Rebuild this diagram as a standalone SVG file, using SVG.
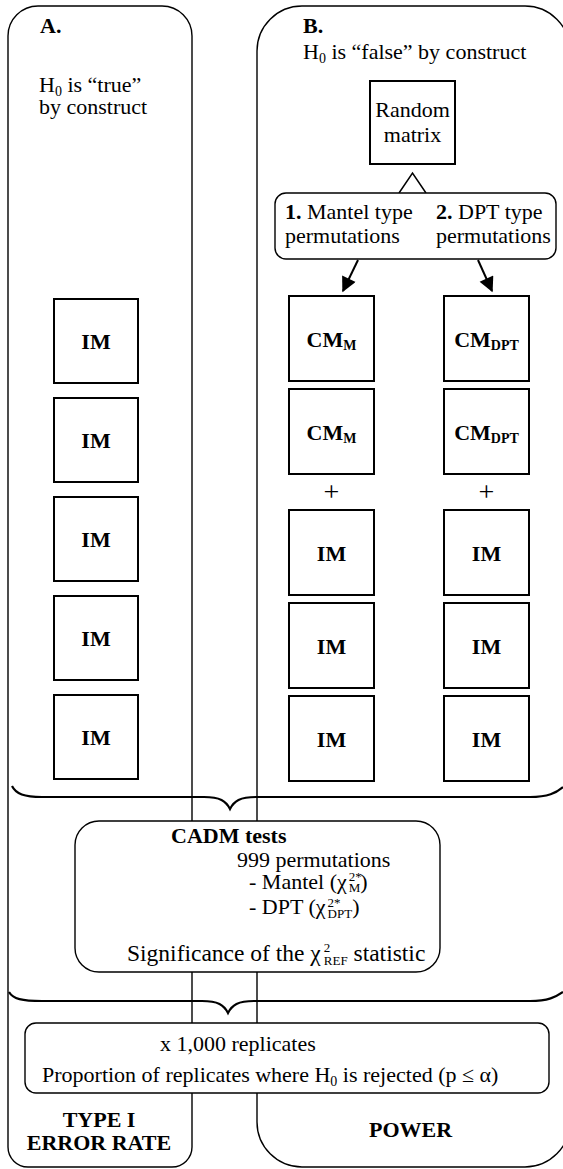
<svg xmlns="http://www.w3.org/2000/svg" width="563" height="1169" viewBox="0 0 563 1169">
<defs>
<marker id="ah" viewBox="0 0 10 10" refX="9" refY="5" markerUnits="userSpaceOnUse" markerWidth="18" markerHeight="15" orient="auto">
<path d="M0,0 L10,5 L0,10 Z" fill="#000"/>
</marker>
</defs>
<style>
text{font-family:"Liberation Serif","Tinos","Times New Roman","DejaVu Serif",serif;font-size:22px;fill:#000}
.b{font-weight:bold}
.m{text-anchor:middle}
.sub{font-size:14px}
.sm{font-size:13px}
.plus{font-size:28px}
.big{font-size:23.5px}
.box{fill:#fff;stroke:#000;stroke-width:2}
.panel{fill:none;stroke:#000;stroke-width:1.4}
.rbox{fill:#fff;stroke:#000;stroke-width:1.4}
.brace{fill:none;stroke:#000;stroke-width:2.2}
.arrow{stroke:#000;stroke-width:2;fill:none;marker-end:url(#ah)}
.tri{fill:none;stroke:#000;stroke-width:1.5}
</style>
<rect width="563" height="1169" fill="#fff"/>

<g id="panelA">
<path class="panel" d="M8,36 A30,30 0 0 1 38,6 H162 A30,30 0 0 1 192,36 V1147 A20,20 0 0 1 172,1167 H28 A20,20 0 0 1 8,1147 Z"/>
<text class="b" x="40" y="33">A.</text>
<text x="39" y="92">H<tspan class="sub" dy="4">0</tspan><tspan dy="-4"> is “true”</tspan></text>
<text x="39" y="114">by construct</text>
<text class="b m" x="99" y="1127">TYPE I</text>
<text class="b m" x="99" y="1150">ERROR RATE</text>
</g>

<g id="panelB">
<path class="panel" d="M257,51 A45,45 0 0 1 302,6 H525 A45,45 0 0 1 570,51 V1122 A45,45 0 0 1 525,1167 H302 A45,45 0 0 1 257,1122 Z"/>
<text class="b" x="303" y="33">B.</text>
<text x="303" y="59">H<tspan class="sub" dy="4">0</tspan><tspan dy="-4"> is “false” by construct</tspan></text>
<text class="b m" x="410.5" y="1137">POWER</text>
</g>

<g id="braces">
<path class="brace" d="M12,786 C16,794 24,797 42,797 L204,797 C220,797 226,801 230,809 C234,801 240,797 256,797 L530,797 C548,797 556,793 563,787"/>
<path class="brace" d="M9,992 C13,999 22,1001 42,1001 L202,1001 C218,1001 224,1005 228,1013 C232,1005 238,1001 254,1001 L530,1001 C548,1001 556,997 563,992"/>
</g>

<g id="connectors">
<path class="tri" d="M399,193 L412.5,173 L426,193"/>
<line class="arrow" x1="358" y1="260" x2="343" y2="291"/>
<line class="arrow" x1="478" y1="260" x2="492" y2="291"/>
<line class="arrow" x1="224" y1="852" x2="224" y2="938"/>
</g>

<g id="random-matrix">
<rect class="box" x="370" y="81" width="85" height="83"/>
<text class="m" x="412.5" y="117">Random</text>
<text class="m" x="412.5" y="142">matrix</text>
</g>

<g id="permutations">
<rect class="rbox" x="275" y="193" width="281" height="66" rx="11"/>
<text x="285" y="219"><tspan class="b">1.</tspan> Mantel type</text>
<text x="436" y="219"><tspan class="b">2.</tspan> DPT type</text>
<text x="285" y="243">permutations</text>
<text x="436" y="243">permutations</text>
</g>

<g id="left-IM">
<rect class="box" x="54" y="299" width="84" height="84"/>
<text class="b m" x="96" y="349">IM</text>
<rect class="box" x="54" y="398" width="84" height="84"/>
<text class="b m" x="96" y="448">IM</text>
<rect class="box" x="54" y="497" width="84" height="84"/>
<text class="b m" x="96" y="547">IM</text>
<rect class="box" x="54" y="596" width="84" height="84"/>
<text class="b m" x="96" y="646">IM</text>
<rect class="box" x="54" y="695" width="84" height="84"/>
<text class="b m" x="96" y="745">IM</text>
</g>

<g id="mantel-column">
<rect class="box" x="289" y="296" width="85" height="85"/>
<text class="b m" x="331.5" y="347">CM<tspan class="sub" dy="3">M</tspan></text>
<rect class="box" x="289" y="389" width="85" height="85"/>
<text class="b m" x="331.5" y="440">CM<tspan class="sub" dy="3">M</tspan></text>
<text class="m plus" x="331.5" y="501">+</text>
<rect class="box" x="289" y="510" width="85" height="85"/>
<text class="b m" x="331.5" y="561">IM</text>
<rect class="box" x="289" y="603" width="85" height="85"/>
<text class="b m" x="331.5" y="654">IM</text>
<rect class="box" x="289" y="696" width="85" height="85"/>
<text class="b m" x="331.5" y="747">IM</text>
</g>

<g id="dpt-column">
<rect class="box" x="444" y="296" width="85" height="85"/>
<text class="b m" x="486.5" y="347">CM<tspan class="sub" dy="3">DPT</tspan></text>
<rect class="box" x="444" y="389" width="85" height="85"/>
<text class="b m" x="486.5" y="440">CM<tspan class="sub" dy="3">DPT</tspan></text>
<text class="m plus" x="486.5" y="501">+</text>
<rect class="box" x="444" y="510" width="85" height="85"/>
<text class="b m" x="486.5" y="561">IM</text>
<rect class="box" x="444" y="603" width="85" height="85"/>
<text class="b m" x="486.5" y="654">IM</text>
<rect class="box" x="444" y="696" width="85" height="85"/>
<text class="b m" x="486.5" y="747">IM</text>
</g>

<g id="cadm-tests">
<rect class="rbox" x="75" y="821" width="365" height="151" rx="24"/>
<text class="b" x="171" y="843">CADM tests</text>
<text x="237" y="867">999 permutations</text>
<text x="249" y="889">- Mantel (χ<tspan class="sm" dx="2" dy="-8">2*</tspan><tspan class="sm" dx="-13" dy="11">M</tspan><tspan dy="-3">)</tspan></text>
<text x="249" y="914">- DPT (χ<tspan class="sm" dx="2" dy="-7">2*</tspan><tspan class="sm" dx="-13" dy="11">DPT</tspan><tspan dy="-4">)</tspan></text>
<text class="big" x="127" y="961">Significance of the χ<tspan class="sm" dx="3" dy="-9">2</tspan><tspan class="sm" dx="-6.5" dy="13">REF</tspan><tspan dy="-4"> statistic</tspan></text>
</g>

<g id="replicates">
<rect class="rbox" x="25" y="1023" width="524" height="70" rx="11"/>
<text x="160" y="1051">x 1,000 replicates</text>
<text x="42" y="1082">Proportion of replicates where H<tspan class="sub" dy="4">0</tspan><tspan dy="-4"> is rejected (p ≤ α)</tspan></text>
</g>
</svg>
